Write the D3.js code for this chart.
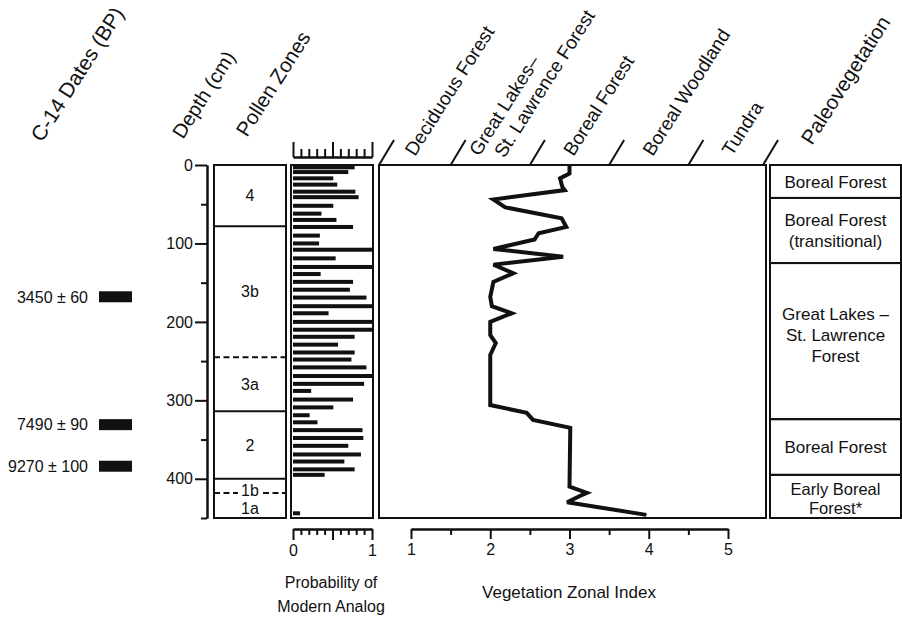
<!DOCTYPE html>
<html>
<head>
<meta charset="utf-8">
<script src="https://cdn.jsdelivr.net/npm/d3@7"></script>
<style>
  body { margin: 0; background: #fff; }
  svg { font-family: "Liberation Sans", Arial, Helvetica, sans-serif; }
</style>
</head>
<body>
<svg id="chart" width="902" height="617"></svg>
<script>
// probability of a modern analog, one bar per sample depth (cm)
var probDepth = [3, 9, 17, 25, 34, 41, 52, 62, 70, 79, 90, 100, 108, 119, 130, 139, 149, 159, 169, 180,
                 189, 200, 210, 219, 229, 239, 248, 258, 269, 279, 288, 299, 309, 319, 328, 338, 348, 358,
                 369, 378, 388, 395, 444];
var probValue = [0.78, 0.70, 0.51, 0.56, 0.79, 0.83, 0.51, 0.36, 0.55, 0.76, 0.34, 0.33, 1.0, 0.54, 1.0, 0.35,
                 0.76, 0.72, 0.93, 1.0, 0.45, 1.0, 1.0, 0.78, 0.57, 0.78, 0.74, 0.93, 1.0, 0.90, 0.23, 0.76,
                 0.51, 0.21, 0.31, 0.88, 0.89, 0.70, 0.86, 0.65, 0.78, 0.40, 0.09];

// vegetation zonal index curve
var vziDepth = [0, 11, 17, 28, 32, 44, 54, 68, 79, 87, 95, 107, 117, 127, 138, 149, 168, 180, 189, 200,
                217, 227, 242, 306, 316, 325, 335, 410, 418, 422, 430, 446];
var vziValue = [3.0, 3.0, 2.88, 2.91, 2.94, 2.04, 2.19, 2.90, 2.96, 2.61, 2.56, 2.04, 2.92, 2.04, 2.29, 2.04,
                2.0, 2.02, 2.27, 2.0, 2.0, 2.07, 2.0, 2.0, 2.46, 2.54, 3.01, 3.0, 3.22, 3.13, 2.97, 3.97];

// pollen zones (top depth of each zone, last entry = core bottom)
var zoneNames = ["4", "3b", "3a", "2", "1b", "1a"];
var zoneEdges = [0, 78, 245, 314, 400, 418, 450];
var zoneDashed = [false, true, false, false, true];   // boundaries between zones

// paleovegetation units
var paleoNames = [["Boreal Forest"], ["Boreal Forest", "(transitional)"],
                  ["Great Lakes \u2013", "St. Lawrence", "Forest"], ["Boreal Forest"],
                  ["Early Boreal", "Forest*"]];
var paleoEdges = [0, 42, 125, 324, 395, 450];

// radiocarbon dates
var dateLabels = ["3450 \u00b1 60", "7490 \u00b1 90", "9270 \u00b1 100"];
var dateDepth = [168, 331, 384];

// vegetation zonal index categories
var vziCats = [["Deciduous Forest"], ["Great Lakes\u2013", "St. Lawrence Forest"], ["Boreal Forest"],
               ["Boreal Woodland"], ["Tundra"]];
var vziCatValue = [1, 2, 3, 4, 5];

var depthMajor = [0, 100, 200, 300, 400];
var depthMinor = [50, 150, 250, 350, 450];
var probMajor = [0, 0.5, 1];
var probMinor = [0.1, 0.2, 0.3, 0.4, 0.6, 0.7, 0.8, 0.9];
var vziMajor = [1, 2, 3, 4, 5];
var vziMinor = [1.5, 2.5, 3.5, 4.5];

var ink = '#111';
var svg = d3.select('#chart');

var y = d3.scaleLinear().domain([0, 450]).range([165, 518]);
var xProb = d3.scaleLinear().domain([0, 1]).range([293, 372]);
var xVzi = d3.scaleLinear().domain([1, 5]).range([411, 728]);

function styleAxis(g, size) {
  g.attr('font-family', null).attr('font-size', size);
  g.selectAll('path, line').attr('stroke', ink).attr('stroke-width', 2);
  g.selectAll('text').attr('fill', ink);
}

// rotated column headers
var ANG = -57.5;
function header(x, y0, lines, size) {
  var t = svg.append('text')
    .attr('transform', 'translate(' + x + ',' + y0 + ') rotate(' + ANG + ')')
    .attr('font-size', size).attr('fill', ink);
  lines.forEach(function(s, i) {
    t.append('tspan').attr('x', i * 12).attr('y', i * 22).text(s);
  });
}
header(42, 143, ["C-14 Dates (BP)"], 21);
header(183, 140, ["Depth (cm)"], 20);
header(247, 138, ["Pollen Zones"], 20.5);
vziCats.forEach(function(c, i) {
  var off = c.length > 1 ? -11 : 4;
  header(xVzi(vziCatValue[i]) + off, 157, c, 19);
});
header(812, 146, ["Paleovegetation"], 20.5);

// ---- C-14 dates
dateDepth.forEach(function(d, i) {
  svg.append('rect').attr('x', 99).attr('y', y(d) - 5.5).attr('width', 33).attr('height', 11)
    .attr('fill', ink);
  svg.append('text').attr('x', 88).attr('y', y(d)).attr('dy', '0.36em')
    .attr('text-anchor', 'end').attr('font-size', 16).attr('fill', ink).text(dateLabels[i]);
});

// ---- depth axis
svg.append('g').attr('transform', 'translate(207,0)')
  .call(d3.axisLeft(y).tickValues(depthMajor).tickSize(12).tickSizeOuter(0).tickPadding(2))
  .call(styleAxis, 16);
svg.append('g').attr('transform', 'translate(207,0)')
  .call(d3.axisLeft(y).tickValues(depthMinor).tickSize(6).tickSizeOuter(0).tickFormat(''))
  .call(styleAxis, 16);

// ---- pollen zones
var zx0 = 214, zx1 = 286;
svg.append('rect').attr('x', zx0).attr('y', y(0)).attr('width', zx1 - zx0).attr('height', y(450) - y(0))
  .attr('fill', 'none').attr('stroke', ink).attr('stroke-width', 2);
zoneEdges.slice(1, -1).forEach(function(d, i) {
  var segs = [[zx0, zx1]];
  if (zoneNames[i + 1] === '1a') segs = [[zx0, 238], [263, zx1]];
  segs.forEach(function(s) {
    svg.append('line').attr('x1', s[0]).attr('x2', s[1]).attr('y1', y(d)).attr('y2', y(d))
      .attr('stroke', ink).attr('stroke-width', 2)
      .attr('stroke-dasharray', zoneDashed[i] ? '6,3.5' : null);
  });
});
zoneNames.forEach(function(n, i) {
  var mid = (zoneEdges[i] + zoneEdges[i + 1]) / 2;
  if (n === '1b') mid = zoneEdges[i + 1] - 3;
  if (n === '1a') mid = mid + 4;
  svg.append('text').attr('x', (zx0 + zx1) / 2).attr('y', y(mid)).attr('dy', '0.36em')
    .attr('text-anchor', 'middle').attr('font-size', 16).attr('fill', ink).text(n);
});

// ---- probability of modern analog
svg.append('rect').attr('x', 291).attr('y', y(0)).attr('width', 82).attr('height', y(450) - y(0))
  .attr('fill', 'none').attr('stroke', ink).attr('stroke-width', 2);
svg.selectAll('.pbar').data(probDepth).enter().append('rect')
  .attr('x', xProb(0))
  .attr('y', function(d) { return y(d) - 2; })
  .attr('width', function(d, i) { return xProb(probValue[i]) - xProb(0); })
  .attr('height', 4).attr('fill', ink);

svg.append('g').attr('transform', 'translate(0,157)')
  .call(d3.axisTop(xProb).tickValues(probMajor).tickSize(15).tickSizeOuter(0).tickFormat(''))
  .call(styleAxis, 16);
svg.append('g').attr('transform', 'translate(0,157)')
  .call(d3.axisTop(xProb).tickValues(probMinor).tickSize(8).tickSizeOuter(0).tickFormat(''))
  .call(styleAxis, 16);
svg.append('g').attr('transform', 'translate(0,529)')
  .call(d3.axisBottom(xProb).tickValues(probMajor).tickSize(11).tickSizeOuter(0)
    .tickFormat(function(d) { return d === 0.5 ? '' : d; }).tickPadding(5))
  .call(styleAxis, 16);
svg.append('g').attr('transform', 'translate(0,529)')
  .call(d3.axisBottom(xProb).tickValues(probMinor).tickSize(6).tickSizeOuter(0).tickFormat(''))
  .call(styleAxis, 16);
svg.append('text').attr('x', 331).attr('y', 588).attr('text-anchor', 'middle')
  .attr('font-size', 16).attr('fill', ink).text('Probability of');
svg.append('text').attr('x', 331).attr('y', 612).attr('text-anchor', 'middle')
  .attr('font-size', 16).attr('fill', ink).text('Modern Analog');

// ---- vegetation zonal index
var vx0 = 379, vx1 = 766;
svg.append('rect').attr('x', vx0).attr('y', y(0)).attr('width', vx1 - vx0).attr('height', y(450) - y(0))
  .attr('fill', 'none').attr('stroke', ink).attr('stroke-width', 2);
var slashX = [vx0].concat(vziMinor.map(xVzi)).concat([vx1 - 3]);
slashX.forEach(function(x) {
  svg.append('line').attr('x1', x).attr('y1', y(0)).attr('x2', x + 15).attr('y2', y(0) - 25)
    .attr('stroke', ink).attr('stroke-width', 2);
});
var vziPts = vziDepth.map(function(d, i) { return [vziValue[i], d]; });
svg.append('path').datum(vziPts)
  .attr('d', d3.line().x(function(p) { return xVzi(p[0]); }).y(function(p) { return y(p[1]); }))
  .attr('fill', 'none').attr('stroke', ink).attr('stroke-width', 4)
  .attr('stroke-linejoin', 'miter').attr('stroke-miterlimit', 3);

svg.append('g').attr('transform', 'translate(0,529)')
  .call(d3.axisBottom(xVzi).tickValues(vziMajor).tickSize(10).tickSizeOuter(0).tickPadding(5)
    .tickFormat(d3.format('d')))
  .call(styleAxis, 16);
svg.append('g').attr('transform', 'translate(0,529)')
  .call(d3.axisBottom(xVzi).tickValues(vziMinor).tickSize(6).tickSizeOuter(0).tickFormat(''))
  .call(styleAxis, 16);
svg.append('text').attr('x', 569).attr('y', 598).attr('text-anchor', 'middle')
  .attr('font-size', 17).attr('fill', ink).text('Vegetation Zonal Index');

// ---- paleovegetation
var px0 = 770, px1 = 901;
paleoNames.forEach(function(lines, i) {
  var top = y(paleoEdges[i]), bot = y(paleoEdges[i + 1]);
  svg.append('rect').attr('x', px0).attr('y', top).attr('width', px1 - px0).attr('height', bot - top)
    .attr('fill', 'none').attr('stroke', ink).attr('stroke-width', 2);
  var lh = i === 4 ? 19 : 21;
  var cy = (top + bot) / 2 - (i === 2 ? 6 : 0) + (i === 4 ? 2 : 0);
  lines.forEach(function(s, j) {
    svg.append('text').attr('x', (px0 + px1) / 2)
      .attr('y', cy + (j - (lines.length - 1) / 2) * lh).attr('dy', '0.36em')
      .attr('text-anchor', 'middle').attr('font-size', i === 4 ? 16.5 : 17).attr('fill', ink).text(s);
  });
});
</script>
</body>
</html>
